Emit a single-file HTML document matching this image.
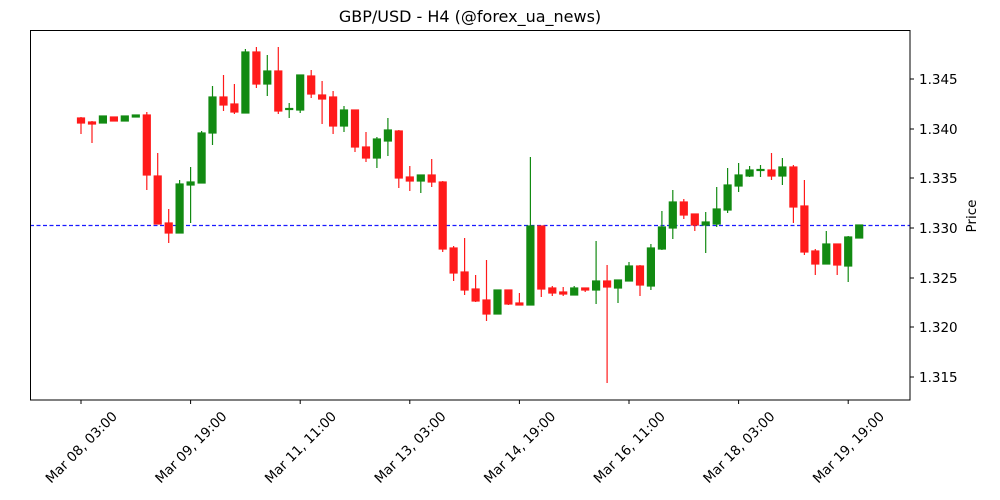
<!DOCTYPE html>
<html><head><meta charset="utf-8"><style>
body{margin:0;background:#fff}
svg{display:block;font-family:"DejaVu Sans","Liberation Sans",sans-serif}
</style></head><body>
<svg width="1000" height="500" viewBox="0 0 1000 500" xmlns="http://www.w3.org/2000/svg">
<rect width="1000" height="500" fill="#fff"/>
<text x="470" y="22" font-size="16" text-anchor="middle" fill="#000">GBP/USD - H4 (@forex_ua_news)</text>
<line x1="30" y1="225.5" x2="910" y2="225.5" stroke="#1a1aff" stroke-width="1.2" stroke-dasharray="4,2.5"/>
<g stroke="#ff1a1a" fill="#ff1a1a" stroke-width="1.2">
<line x1="81" y1="117" x2="81" y2="134"/><rect x="77.5" y="118" width="7" height="5"/>
<line x1="92" y1="121" x2="92" y2="143"/><rect x="88.5" y="122" width="7" height="2"/>
<rect x="110.4" y="117" width="7" height="4"/>
<line x1="146.8" y1="112" x2="146.8" y2="190"/><rect x="143.3" y="115" width="7" height="60"/>
<line x1="157.7" y1="153" x2="157.7" y2="224"/><rect x="154.2" y="176" width="7" height="48"/>
<line x1="168.7" y1="209" x2="168.7" y2="243"/><rect x="165.2" y="223" width="7" height="10"/>
<line x1="223.5" y1="75" x2="223.5" y2="111"/><rect x="220" y="97" width="7" height="8"/>
<line x1="234.4" y1="84" x2="234.4" y2="114"/><rect x="230.9" y="104" width="7" height="8"/>
<line x1="256.4" y1="47" x2="256.4" y2="88"/><rect x="252.9" y="52" width="7" height="32"/>
<line x1="278.3" y1="47" x2="278.3" y2="114"/><rect x="274.8" y="71" width="7" height="40"/>
<line x1="311.2" y1="70" x2="311.2" y2="98"/><rect x="307.7" y="76" width="7" height="18"/>
<line x1="322.1" y1="81" x2="322.1" y2="124"/><rect x="318.6" y="95" width="7" height="4"/>
<line x1="333.1" y1="91" x2="333.1" y2="134"/><rect x="329.6" y="97" width="7" height="29"/>
<line x1="355" y1="110" x2="355" y2="152"/><rect x="351.5" y="110" width="7" height="37"/>
<line x1="366" y1="132" x2="366" y2="162"/><rect x="362.5" y="147" width="7" height="11"/>
<line x1="398.8" y1="130" x2="398.8" y2="188"/><rect x="395.3" y="131" width="7" height="47"/>
<line x1="409.8" y1="166" x2="409.8" y2="191"/><rect x="406.3" y="177" width="7" height="4"/>
<line x1="431.7" y1="159" x2="431.7" y2="187"/><rect x="428.2" y="175" width="7" height="7"/>
<line x1="442.7" y1="181" x2="442.7" y2="252"/><rect x="439.2" y="182" width="7" height="67"/>
<line x1="453.6" y1="246" x2="453.6" y2="281"/><rect x="450.1" y="248" width="7" height="25"/>
<line x1="464.6" y1="238" x2="464.6" y2="295"/><rect x="461.1" y="272" width="7" height="18"/>
<line x1="475.6" y1="275" x2="475.6" y2="302"/><rect x="472.1" y="289" width="7" height="12"/>
<line x1="486.5" y1="260" x2="486.5" y2="321"/><rect x="483" y="300" width="7" height="14"/>
<line x1="508.4" y1="290" x2="508.4" y2="305"/><rect x="504.9" y="290" width="7" height="14"/>
<line x1="519.4" y1="293" x2="519.4" y2="305"/><rect x="515.9" y="303" width="7" height="2"/>
<line x1="541.3" y1="226" x2="541.3" y2="297"/><rect x="537.8" y="226" width="7" height="63"/>
<line x1="552.3" y1="286" x2="552.3" y2="296"/><rect x="548.8" y="288" width="7" height="5"/>
<line x1="563.2" y1="287" x2="563.2" y2="296"/><rect x="559.7" y="292" width="7" height="2"/>
<line x1="585.2" y1="288" x2="585.2" y2="292"/><rect x="581.7" y="288" width="7" height="2"/>
<line x1="607.1" y1="265" x2="607.1" y2="383"/><rect x="603.6" y="281" width="7" height="6"/>
<line x1="640" y1="265" x2="640" y2="296"/><rect x="636.5" y="266" width="7" height="19"/>
<line x1="683.8" y1="199" x2="683.8" y2="219"/><rect x="680.3" y="202" width="7" height="13"/>
<line x1="694.8" y1="214" x2="694.8" y2="231"/><rect x="691.3" y="214" width="7" height="11"/>
<line x1="771.5" y1="153" x2="771.5" y2="180"/><rect x="768" y="170" width="7" height="6"/>
<line x1="793.4" y1="165" x2="793.4" y2="223"/><rect x="789.9" y="167" width="7" height="40"/>
<line x1="804.4" y1="180" x2="804.4" y2="255"/><rect x="800.9" y="206" width="7" height="46"/>
<line x1="815.3" y1="249" x2="815.3" y2="275"/><rect x="811.8" y="251" width="7" height="13"/>
<line x1="837.2" y1="244" x2="837.2" y2="275"/><rect x="833.7" y="244" width="7" height="21"/>
</g>
<g stroke="#128a12" fill="#128a12" stroke-width="1.2">
<rect x="99.4" y="116" width="7" height="7"/>
<rect x="121.3" y="116" width="7" height="5"/>
<rect x="132.3" y="115" width="7" height="2"/>
<line x1="179.6" y1="180" x2="179.6" y2="233"/><rect x="176.1" y="184" width="7" height="49"/>
<line x1="190.6" y1="167" x2="190.6" y2="223"/><rect x="187.1" y="182" width="7" height="3"/>
<line x1="201.6" y1="131" x2="201.6" y2="183"/><rect x="198.1" y="133" width="7" height="50"/>
<line x1="212.5" y1="86" x2="212.5" y2="145"/><rect x="209" y="97" width="7" height="36"/>
<line x1="245.4" y1="49" x2="245.4" y2="113"/><rect x="241.9" y="52" width="7" height="61"/>
<line x1="267.3" y1="55" x2="267.3" y2="96"/><rect x="263.8" y="71" width="7" height="13"/>
<line x1="289.2" y1="103" x2="289.2" y2="118"/><rect x="285.7" y="108.5" width="7" height="1"/>
<line x1="300.2" y1="75" x2="300.2" y2="113"/><rect x="296.7" y="75" width="7" height="35"/>
<line x1="344" y1="106" x2="344" y2="132"/><rect x="340.5" y="110" width="7" height="16"/>
<line x1="376.9" y1="137" x2="376.9" y2="168"/><rect x="373.4" y="139" width="7" height="19"/>
<line x1="387.9" y1="118" x2="387.9" y2="156"/><rect x="384.4" y="130" width="7" height="11"/>
<line x1="420.8" y1="175" x2="420.8" y2="193"/><rect x="417.3" y="175" width="7" height="6"/>
<rect x="494" y="290" width="7" height="24"/>
<line x1="530.4" y1="157" x2="530.4" y2="305"/><rect x="526.9" y="226" width="7" height="79"/>
<line x1="574.2" y1="286" x2="574.2" y2="295"/><rect x="570.7" y="288" width="7" height="7"/>
<line x1="596.1" y1="241" x2="596.1" y2="304"/><rect x="592.6" y="281" width="7" height="9"/>
<line x1="618" y1="280" x2="618" y2="303"/><rect x="614.5" y="280" width="7" height="8"/>
<line x1="629" y1="262" x2="629" y2="281"/><rect x="625.5" y="266" width="7" height="15"/>
<line x1="650.9" y1="244" x2="650.9" y2="290"/><rect x="647.4" y="248" width="7" height="38"/>
<line x1="661.9" y1="211" x2="661.9" y2="250"/><rect x="658.4" y="227" width="7" height="22"/>
<line x1="672.8" y1="190" x2="672.8" y2="239"/><rect x="669.3" y="202" width="7" height="26"/>
<line x1="705.7" y1="212" x2="705.7" y2="253"/><rect x="702.2" y="222" width="7" height="3"/>
<line x1="716.7" y1="187" x2="716.7" y2="227"/><rect x="713.2" y="209" width="7" height="15"/>
<line x1="727.6" y1="168" x2="727.6" y2="213"/><rect x="724.1" y="185" width="7" height="25"/>
<line x1="738.6" y1="163" x2="738.6" y2="192"/><rect x="735.1" y="175" width="7" height="11"/>
<line x1="749.6" y1="166" x2="749.6" y2="177"/><rect x="746.1" y="170" width="7" height="6"/>
<line x1="760.5" y1="165" x2="760.5" y2="177"/><rect x="757" y="169.5" width="7" height="1"/>
<line x1="782.4" y1="158" x2="782.4" y2="185"/><rect x="778.9" y="167" width="7" height="9"/>
<line x1="826.3" y1="231" x2="826.3" y2="264"/><rect x="822.8" y="244" width="7" height="20"/>
<line x1="848.2" y1="236" x2="848.2" y2="282"/><rect x="844.7" y="237" width="7" height="29"/>
<rect x="855.7" y="225" width="7" height="13"/>
</g>
<rect x="30.5" y="30.5" width="879.5" height="369.5" fill="none" stroke="#000" stroke-width="1"/>
<g stroke="#000" stroke-width="1">
<line x1="910" y1="79" x2="914" y2="79"/><line x1="910" y1="129" x2="914" y2="129"/><line x1="910" y1="178" x2="914" y2="178"/><line x1="910" y1="228" x2="914" y2="228"/><line x1="910" y1="278" x2="914" y2="278"/><line x1="910" y1="327" x2="914" y2="327"/><line x1="910" y1="377" x2="914" y2="377"/>
<line x1="81" y1="400" x2="81" y2="404"/><line x1="190.6" y1="400" x2="190.6" y2="404"/><line x1="300.2" y1="400" x2="300.2" y2="404"/><line x1="409.8" y1="400" x2="409.8" y2="404"/><line x1="519.4" y1="400" x2="519.4" y2="404"/><line x1="629" y1="400" x2="629" y2="404"/><line x1="738.6" y1="400" x2="738.6" y2="404"/><line x1="848.2" y1="400" x2="848.2" y2="404"/>
</g>
<g font-size="13.5" fill="#000">
<text x="919" y="84">1.345</text><text x="919" y="134">1.340</text><text x="919" y="183">1.335</text><text x="919" y="233">1.330</text><text x="919" y="283">1.325</text><text x="919" y="332">1.320</text><text x="919" y="382">1.315</text>
<text transform="translate(976,216) rotate(-90)" text-anchor="middle">Price</text>
</g>
<g font-size="13.5" fill="#000" text-anchor="middle">
<text transform="translate(81,447) rotate(-45)" dy="5">Mar 08, 03:00</text>
<text transform="translate(190.6,447) rotate(-45)" dy="5">Mar 09, 19:00</text>
<text transform="translate(300.2,447) rotate(-45)" dy="5">Mar 11, 11:00</text>
<text transform="translate(409.8,447) rotate(-45)" dy="5">Mar 13, 03:00</text>
<text transform="translate(519.4,447) rotate(-45)" dy="5">Mar 14, 19:00</text>
<text transform="translate(629,447) rotate(-45)" dy="5">Mar 16, 11:00</text>
<text transform="translate(738.6,447) rotate(-45)" dy="5">Mar 18, 03:00</text>
<text transform="translate(848.2,447) rotate(-45)" dy="5">Mar 19, 19:00</text>
</g>
</svg>
</body></html>
